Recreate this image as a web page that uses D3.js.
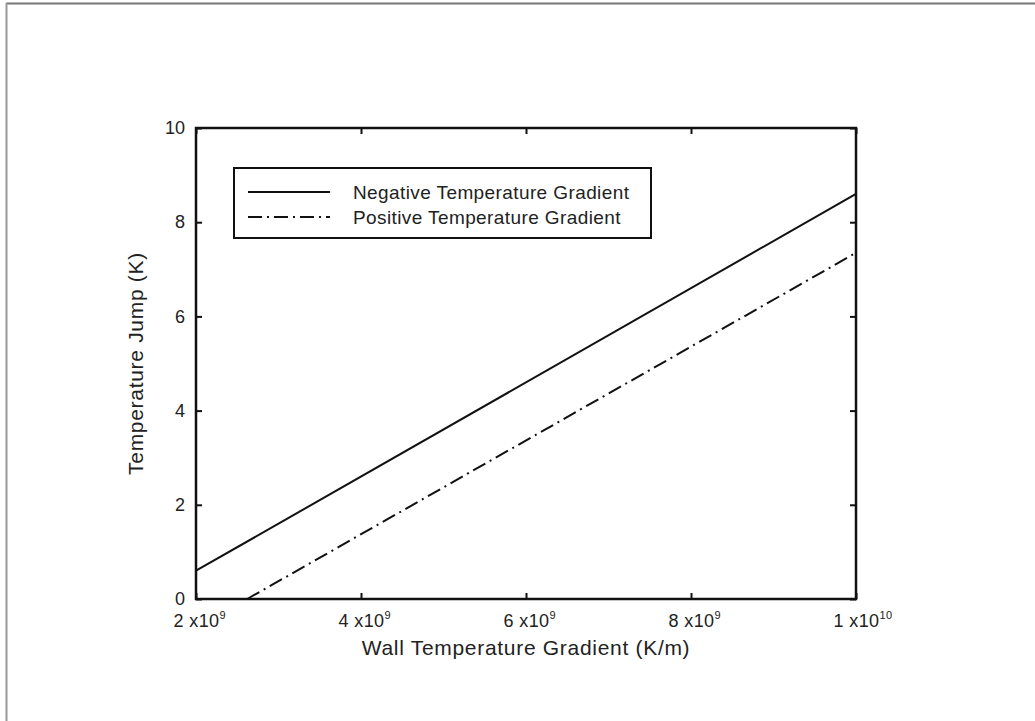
<!DOCTYPE html>
<html>
<head>
<meta charset="utf-8">
<script src="https://cdn.jsdelivr.net/npm/d3@7"></script>
<style>
  body { margin: 0; background: #fff; }
  text { font-family: "Liberation Sans", Arial, sans-serif; fill: #222; }
</style>
</head>
<body>
<script>
// data
var seriesNames = ["Negative Temperature Gradient", "Positive Temperature Gradient"];
var negative = [{x: 2e9, y: 0.6}, {x: 1e10, y: 8.6}];
var positive = [{x: 2.62e9, y: 0}, {x: 1e10, y: 7.35}];
var xTicks = [2e9, 4e9, 6e9, 8e9, 1e10];
var yTicks = [0, 2, 4, 6, 8, 10];

var W = 1035, H = 721;
var mLeft = 196, mRight = 856, mTop = 128, mBottom = 599;

var svg = d3.select("body").append("svg")
    .attr("width", W)
    .attr("height", H);

// grey frame at top and left
svg.append("line").attr("x1", 6).attr("y1", 3.5).attr("x2", W).attr("y2", 3.5)
    .attr("stroke", "#777").attr("stroke-width", 2);
svg.append("line").attr("x1", 6.5).attr("y1", 3).attr("x2", 6.5).attr("y2", H)
    .attr("stroke", "#999").attr("stroke-width", 2);

var x = d3.scaleLinear().domain([2e9, 1e10]).range([mLeft, mRight]);
var y = d3.scaleLinear().domain([0, 10]).range([mBottom, mTop]);

// "2 x10^9" style labels, main part centred on the tick
function xLabel(sel, d) {
    var e = Math.floor(Math.log10(d) + 1e-9);
    var m = Math.round(d / Math.pow(10, e));
    sel.text(null);
    sel.append("tspan").text(m + " x10");
    var sup = sel.append("tspan").attr("dy", -8).style("font-size", "11px").text(e);
    sel.attr("x", sup.node().getComputedTextLength() / 2);
}

// bottom axis, ticks pointing in
var xAxis = svg.append("g")
    .attr("transform", "translate(0," + mBottom + ")")
    .call(d3.axisBottom(x).tickValues(xTicks).tickSizeInner(-6).tickSizeOuter(0).tickPadding(0));
xAxis.selectAll(".tick text")
    .style("font-size", "18px").style("letter-spacing", "0.4px")
    .attr("y", 28).attr("dy", null)
    .each(function (d) { xLabel(d3.select(this), d); });

svg.append("g")
    .attr("transform", "translate(0," + mTop + ")")
    .call(d3.axisTop(x).tickValues(xTicks).tickSizeInner(-6).tickSizeOuter(0).tickFormat(""));

svg.append("g")
    .attr("transform", "translate(" + mLeft + ",0)")
    .call(d3.axisLeft(y).tickValues(yTicks).tickSizeInner(-6).tickSizeOuter(0).tickPadding(11))
    .selectAll(".tick text").style("font-size", "18px");

svg.append("g")
    .attr("transform", "translate(" + mRight + ",0)")
    .call(d3.axisRight(y).tickValues(yTicks).tickSizeInner(-6).tickSizeOuter(0).tickFormat(""));

svg.selectAll(".domain").remove();
svg.selectAll(".tick line").attr("stroke", "#111").attr("stroke-width", 2);

// plot frame
svg.append("rect")
    .attr("x", mLeft).attr("y", mTop)
    .attr("width", mRight - mLeft).attr("height", mBottom - mTop)
    .attr("fill", "none").attr("stroke", "#111").attr("stroke-width", 2.5);

var line = d3.line()
    .x(function (d) { return x(d.x); })
    .y(function (d) { return y(d.y); });

var dashes = [null, "14,5,2,5"];

svg.append("g")
    .selectAll("path")
    .data([negative, positive])
    .enter()
        .append("path")
        .attr("d", line)
        .attr("fill", "none")
        .attr("stroke", "#111")
        .attr("stroke-width", 2)
        .style("stroke-dasharray", function (d, i) { return dashes[i]; });

// legend
svg.append("rect")
    .attr("x", 234).attr("y", 168)
    .attr("width", 417).attr("height", 70)
    .attr("fill", "#fff").attr("stroke", "#111").attr("stroke-width", 2);

var leg = svg.append("g").selectAll("g")
    .data(seriesNames)
    .enter()
        .append("g")
        .attr("transform", function (d, i) { return "translate(248," + (192 + i * 25) + ")"; });

leg.append("line")
    .attr("x1", 0).attr("x2", 82)
    .attr("stroke", "#111").attr("stroke-width", 2)
    .style("stroke-dasharray", function (d, i) { return dashes[i]; });

leg.append("text")
    .attr("x", 105).attr("dy", "0.35em")
    .style("font-size", "19px")
    .style("letter-spacing", "0.4px")
    .text(function (d) { return d; });

// axis titles
svg.append("text")
    .attr("x", (mLeft + mRight) / 2).attr("y", 655)
    .attr("text-anchor", "middle")
    .style("font-size", "21px")
    .style("letter-spacing", "0.7px")
    .text("Wall Temperature Gradient (K/m)");

svg.append("text")
    .attr("transform", "translate(143," + (mTop + mBottom) / 2 + ") rotate(-90)")
    .attr("text-anchor", "middle")
    .style("font-size", "21px")
    .style("letter-spacing", "0.7px")
    .text("Temperature Jump (K)");
</script>
</body>
</html>
